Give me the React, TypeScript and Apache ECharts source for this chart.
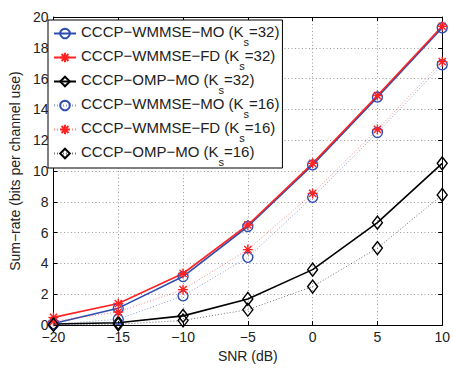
import React, { useEffect, useRef } from "react";
import * as echarts from "echarts";

const snr = [-20, -15, -10, -5, 0, 5, 10];
const wmmseMoK32 = [0.1, 1.1, 3.15, 6.4, 10.4, 14.8, 19.3];
const wmmseFdK32 = [0.5, 1.4, 3.35, 6.5, 10.5, 14.9, 19.4];
const ompMoK32 = [0.07, 0.15, 0.6, 1.7, 3.6, 6.65, 10.5];
const wmmseMoK16 = [0.05, 0.38, 1.9, 4.4, 8.3, 12.5, 16.9];
const wmmseFdK16 = [0.25, 0.85, 2.3, 4.9, 8.55, 12.7, 17.1];
const ompMoK16 = [0.02, 0.05, 0.3, 1.0, 2.5, 5.0, 8.45];

const methodNames = [
  "CCCP−WMMSE−MO",
  "CCCP−WMMSE−FD",
  "CCCP−OMP−MO",
  "CCCP−WMMSE−MO",
  "CCCP−WMMSE−FD",
  "CCCP−OMP−MO",
];
const ksValues = [32, 32, 32, 16, 16, 16];

const FONT = "'Liberation Sans', Arial, Helvetica, sans-serif";
const BLUE = "#2e4db0";
const RED = "#ff2222";
const BLACK = "#000000";
const STAR = "path://M0,-5L0,5M-5,0L5,0M-3.6,-3.6L3.6,3.6M-3.6,3.6L3.6,-3.6";

export default function App() {
  const ref = useRef<HTMLDivElement>(null);
  useEffect(() => {
    if (!ref.current) return;
    const chart = echarts.init(ref.current, null, { renderer: "svg" });
    const allData = [wmmseMoK32, wmmseFdK32, ompMoK32, wmmseMoK16, wmmseFdK16, ompMoK16];
    const colors = [BLUE, RED, BLACK, BLUE, RED, BLACK];
    const symbols = ["circle", STAR, "diamond", "circle", STAR, "diamond"];
    const sizes: any[] = [10, 10, [10, 13], 10, 10, [10, 13]];
    const seriesNames = methodNames.map((m, i) => `${m} (Ks=${ksValues[i]})`);
    const richNames: Record<string, string> = {};
    seriesNames.forEach((n, i) => {
      richNames[n] = `{a|${methodNames[i]} (K}{s|s}{a|=${ksValues[i]})}`;
    });
    const series = allData.map((d, i) => {
      const dotted = i >= 3;
      return {
        type: "line",
        name: seriesNames[i],
        data: d.map((v, j) => [snr[j], v]),
        symbol: symbols[i],
        symbolSize: sizes[i],
        showAllSymbol: true,
        clip: false,
        lineStyle: {
          color: colors[i],
          width: dotted ? 1 : 1.6,
          type: dotted ? [1, 2] : "solid",
          opacity: dotted ? 0.55 : 1,
        },
        itemStyle: {
          color: "rgba(0,0,0,0)",
          borderColor: colors[i],
          borderWidth: 1.4,
        },
        emphasis: { disabled: true },
        z: 3,
      };
    });
    const gridLine = { show: true, lineStyle: { color: "#9a9a9a", width: 1, type: [1, 2.5] as any } };
    chart.setOption({
      animation: false,
      backgroundColor: "#ffffff",
      grid: { left: 44, right: 6, top: 17, bottom: 32, containLabel: false },
      legend: {
        orient: "vertical",
        left: 48,
        top: 20,
        z: 6,
        padding: [0, 3, 1, 5],
        backgroundColor: "#ffffff",
        borderColor: "#000000",
        borderWidth: 1,
        borderRadius: 0,
        itemWidth: 22,
        itemHeight: 12,
        itemGap: -3,
        data: seriesNames,
        formatter: (n: string) => richNames[n],
        textStyle: {
          fontFamily: FONT,
          fontSize: 15,
          color: "#222222",
          rich: {
            a: { fontFamily: FONT, fontSize: 15, color: "#222222", lineHeight: 15, padding: [0, 0, 4, 0] },
            s: { fontFamily: FONT, fontSize: 11, color: "#222222", lineHeight: 11, padding: [16, 0, 0, 0] },
          },
        },
      },
      xAxis: [
        {
          type: "value",
          min: -20,
          max: 10,
          interval: 5,
          name: "SNR (dB)",
          nameLocation: "middle",
          nameGap: 18,
          nameTextStyle: { fontFamily: FONT, fontSize: 14, color: "#222222" },
          axisLine: { show: true, onZero: false, lineStyle: { color: "#000", width: 1 } },
          axisTick: { show: true, inside: true, length: 4, lineStyle: { color: "#000" } },
          axisLabel: {
            fontFamily: FONT,
            fontSize: 14,
            color: "#222222",
            margin: 5,
            formatter: (v: number) => String(v).replace("-", "−"),
          },
          splitLine: gridLine,
        },
        {
          type: "value",
          position: "top",
          min: -20,
          max: 10,
          interval: 5,
          axisLine: { show: true, onZero: false, lineStyle: { color: "#000", width: 1 } },
          axisTick: { show: true, inside: true, length: 4, lineStyle: { color: "#000" } },
          axisLabel: { show: false },
          splitLine: { show: false },
        },
      ],
      yAxis: [
        {
          type: "value",
          min: 0,
          max: 20,
          interval: 2,
          name: "Sum−rate (bits per channel use)",
          nameLocation: "middle",
          nameGap: 21,
          nameRotate: 90,
          nameTextStyle: { fontFamily: FONT, fontSize: 14, color: "#222222" },
          axisLine: { show: true, onZero: false, lineStyle: { color: "#000", width: 1 } },
          axisTick: { show: true, inside: true, length: 4, lineStyle: { color: "#000" } },
          axisLabel: { fontFamily: FONT, fontSize: 14, color: "#222222", margin: 5 },
          splitLine: gridLine,
        },
        {
          type: "value",
          position: "right",
          min: 0,
          max: 20,
          interval: 2,
          axisLine: { show: true, onZero: false, lineStyle: { color: "#000", width: 1 } },
          axisTick: { show: true, inside: true, length: 4, lineStyle: { color: "#000" } },
          axisLabel: { show: false },
          splitLine: { show: false },
        },
      ],
      series,
    });
    return () => chart.dispose();
  }, []);
  return (
    <div
      ref={ref}
      style={{ position: "fixed", left: 0, top: 0, width: 453, height: 368, background: "#fff" }}
    />
  );
}
